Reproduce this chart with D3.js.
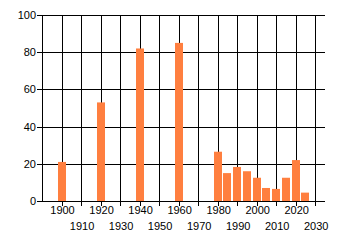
<!DOCTYPE html>
<html>
<head>
<meta charset="utf-8">
<script src="https://cdn.jsdelivr.net/npm/d3@7"></script>
<style>
  body { margin: 0; background: #fff; }
  text { font-family: "Liberation Sans", Arial, sans-serif; font-size: 11px; fill: #000; }
</style>
</head>
<body>
<div id="chart"></div>
<script>
var years = [1900, 1920, 1940, 1960, 1980, 1985, 1990, 1995, 2000, 2005, 2010, 2015, 2020, 2025];
var values = [21, 53, 82, 85, 26.5, 15, 18.3, 16, 12.5, 7, 6.5, 12.5, 22, 4.5];
var xTicks = [1900, 1910, 1920, 1930, 1940, 1950, 1960, 1970, 1980, 1990, 2000, 2010, 2020, 2030];
var yTicks = [0, 20, 40, 60, 80, 100];

var svg = d3.select('#chart').append('svg')
    .attr('width', 340)
    .attr('height', 245);

var x = d3.scaleLinear().domain([1890, 2035]).range([42, 325]);
var y = d3.scaleLinear().domain([0, 100]).range([201, 15]);

// horizontal grid
svg.selectAll('.hgrid')
    .data(yTicks)
    .enter().append('line')
    .attr('x1', 37).attr('x2', 325)
    .attr('y1', function(d){ return Math.round(y(d)) + 0.5; })
    .attr('y2', function(d){ return Math.round(y(d)) + 0.5; })
    .attr('stroke', '#000');

// vertical grid (+ ticks below axis)
svg.selectAll('.vgrid')
    .data(xTicks)
    .enter().append('line')
    .attr('x1', function(d){ return Math.round(x(d)) + 0.5; })
    .attr('x2', function(d){ return Math.round(x(d)) + 0.5; })
    .attr('y1', Math.round(y(100)))
    .attr('y2', Math.round(y(0)) + 5)
    .attr('stroke', '#000');

// y axis line
svg.append('line')
    .attr('x1', 42.5).attr('x2', 42.5)
    .attr('y1', Math.round(y(100))).attr('y2', Math.round(y(0)) + 1)
    .attr('stroke', '#000');

// bars
svg.selectAll('.bar')
    .data(years)
    .enter().append('rect')
    .attr('x', function(d){ return Math.round(x(d) - 4); })
    .attr('width', 8)
    .attr('y', function(d, i){ return y(values[i]); })
    .attr('height', function(d, i){ return y(0) - y(values[i]); })
    .attr('fill', '#ff7f3f');

// y labels
svg.selectAll('.ylab')
    .data(yTicks)
    .enter().append('text')
    .attr('x', 36)
    .attr('y', function(d){ return y(d) + 4; })
    .attr('text-anchor', 'end')
    .text(function(d){ return d; });

// x labels, staggered
svg.selectAll('.xlab')
    .data(xTicks)
    .enter().append('text')
    .attr('x', function(d){ return x(d) + 1; })
    .attr('y', function(d){ return (d % 20 === 0) ? 214 : 230; })
    .attr('text-anchor', 'middle')
    .text(function(d){ return d; });
</script>
</body>
</html>
